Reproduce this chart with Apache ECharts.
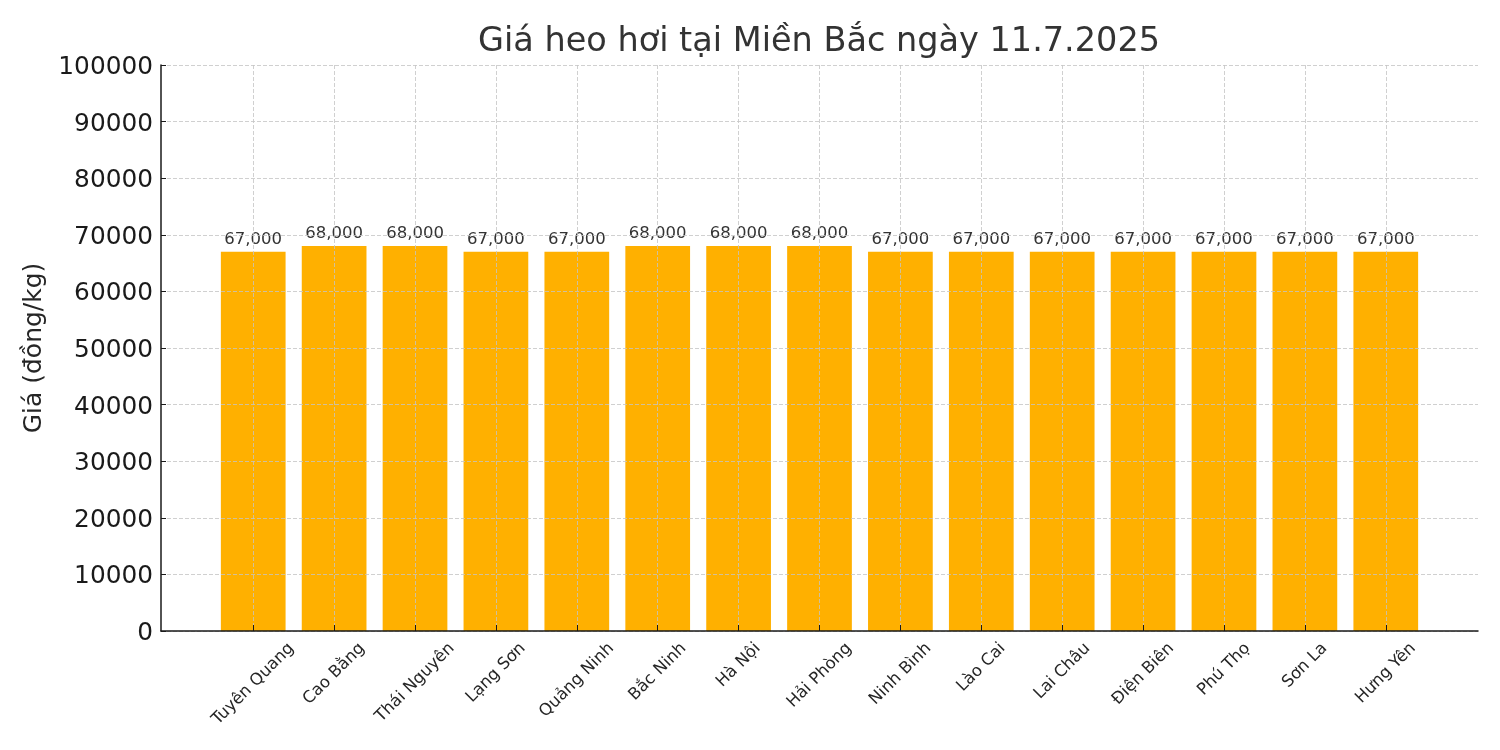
<!DOCTYPE html>
<html>
<head>
<meta charset="utf-8">
<script src="https://cdn.jsdelivr.net/npm/echarts@6/dist/echarts.min.js"></script>
<style>
html,body{margin:0;padding:0;background:#fff;}
#chart{width:1500px;height:750px;}
</style>
</head>
<body>
<div id="chart"></div>
<script>
const TITLE = 'Giá heo hơi tại Miền Bắc ngày 11.7.2025';
const Y_NAME = 'Giá (đồng/kg)';
const categories = ['Tuyên Quang','Cao Bằng','Thái Nguyên','Lạng Sơn','Quảng Ninh','Bắc Ninh','Hà Nội','Hải Phòng','Ninh Bình','Lào Cai','Lai Châu','Điện Biên','Phú Thọ','Sơn La','Hưng Yên'];
const prices = [67000,68000,68000,67000,67000,68000,68000,68000,67000,67000,67000,67000,67000,67000,67000];
const yMin = 0, yMax = 100000, yInterval = 10000;

const FONT = '"DejaVu Sans", sans-serif';
const XFS = 16.5;
const YFS = 24.8;
const TOP = 8;
const ctx = document.createElement('canvas').getContext('2d');
ctx.font = XFS + 'px "DejaVu Sans"';
const rich = {};
categories.forEach((c, i) => {
  const w = ctx.measureText(c).width;
  const h = XFS * 1.17;
  const d = TOP + 0.3536 * (w + h);
  const p = 1.4142 * d;
  rich['r' + i] = {padding: [p, p, 0, 0], fontSize: XFS, fontFamily: FONT, color: '#262626'};
});

const idx = categories.map((c, i) => i);
const n = categories.length;
const pad = 0.05 * ((n - 1) + 0.8);

const chart = echarts.init(document.getElementById('chart'), null, {renderer: 'canvas'});
chart.setOption({
  animation: false,
  backgroundColor: '#ffffff',
  title: {
    text: TITLE,
    left: 814, top: 20,
    textAlign: 'center',
    textStyle: {fontFamily: FONT, fontSize: 33.5, fontWeight: 'normal', color: '#333333'}
  },
  grid: {left: 161, right: 22, top: 65, bottom: 119, containLabel: false},
  xAxis: {
    type: 'value',
    min: -0.4 - pad, max: (n - 1) + 0.4 + pad,
    z: 3,
    axisLine: {show: true, onZero: false, lineStyle: {color: '#1a1a1a', width: 1.5}},
    axisTick: {show: true, inside: true, length: 6, customValues: idx, lineStyle: {color: '#1a1a1a', width: 1}},
    axisLabel: {
      show: true, customValues: idx, rotate: 45, align: 'center', verticalAlign: 'middle', margin: 0,
      formatter: (v) => { const i = Math.round(v); return '{r' + i + '|' + categories[i] + '}'; },
      rich: rich, fontFamily: FONT, fontSize: XFS, color: '#262626'
    },
    splitLine: {show: true, lineStyle: {color: '#c4c4c4', width: 0.8, type: [4, 2]}}
  },
  yAxis: {
    type: 'value', min: yMin, max: yMax, interval: yInterval,
    z: 3,
    name: Y_NAME, nameLocation: 'middle', nameGap: 111, nameRotate: 90,
    nameTextStyle: {fontFamily: FONT, fontSize: 25, color: '#262626'},
    axisLine: {show: true, onZero: false, lineStyle: {color: '#1a1a1a', width: 1.5}},
    axisTick: {show: true, inside: true, length: 5, lineStyle: {color: '#1a1a1a', width: 1}},
    axisLabel: {
      fontFamily: FONT, fontSize: YFS, color: '#1a1a1a', margin: 8,
      formatter: (v) => '{y|' + v + '}',
      rich: {y: {fontFamily: FONT, fontSize: YFS, color: '#1a1a1a', padding: [5, 0, 0, 0]}}
    },
    splitLine: {show: true, lineStyle: {color: '#c4c4c4', width: 0.8, type: [4, 2]}}
  },
  series: [{
    type: 'bar',
    data: prices.map((v, i) => [i, v]),
    barWidth: '80%',
    itemStyle: {color: '#FFB000'},
    label: {
      show: true, position: 'top', distance: 4,
      formatter: (p) => p.value[1].toLocaleString('en-US'),
      fontFamily: FONT, fontSize: 16.5, color: '#333333'
    },
    z: 2
  }]
});
</script>
</body>
</html>
